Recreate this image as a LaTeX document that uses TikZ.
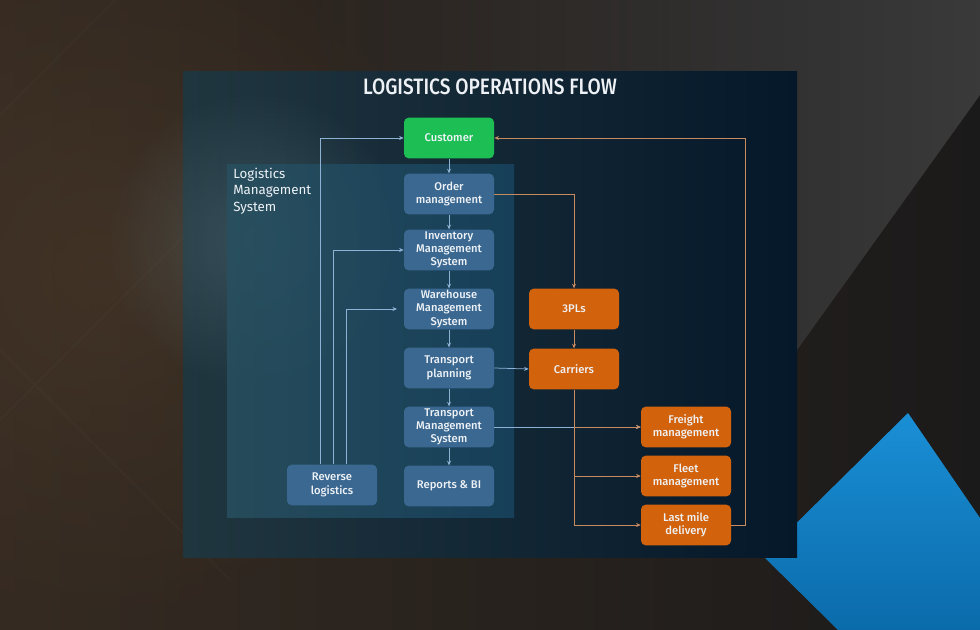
\documentclass[tikz,border=0pt]{standalone}
\usepackage{fontspec}
\setmainfont{Fira Sans}
\newfontfamily\medfont{Fira Sans Medium}
\newfontfamily\titlefont[FakeStretch=0.86]{Fira Sans Medium}
\usetikzlibrary{arrows.meta,fadings,calc}
\tikzfading[name=myglow, inner color=transparent!0, outer color=transparent!100]
\tikzfading[name=grayfade, left color=transparent!100, middle color=transparent!75, right color=transparent!0]
\definecolor{bgdark}{HTML}{1B1A1A}
\definecolor{bgbrown}{HTML}{4A3828}
\definecolor{bggray}{HTML}{3C3C3D}
\definecolor{bluetri}{HTML}{1A8FD6}
\definecolor{bluetri2}{HTML}{0B6BAA}
\definecolor{panelL}{HTML}{20363F}
\definecolor{panelR}{HTML}{05182A}
\definecolor{lmsL}{HTML}{285060}
\definecolor{lmsR}{HTML}{184460}
\definecolor{nodeblue}{HTML}{3B6891}
\definecolor{nodeorange}{HTML}{D2620C}
\definecolor{custgreen}{HTML}{1DBF55}
\definecolor{lineblue}{HTML}{8DB2D6}
\definecolor{lineorange}{HTML}{C98A5E}
\definecolor{txt}{HTML}{EEF2F6}
\tikzset{
  box/.style={rounded corners=3.5pt, minimum width=67.5pt, minimum height=30.5pt,
    align=center, text=txt, inner sep=1pt, font=\medfont\fontsize{8.4}{10}\selectfont},
  bluebox/.style={box, fill=nodeblue},
  orangebox/.style={box, fill=nodeorange},
  greenbox/.style={box, fill=custgreen},
  bl/.style={draw=lineblue, line width=0.55pt, -{Stealth[length=3.5pt,width=3pt]}},
  orl/.style={draw=lineorange, line width=0.55pt, -{Stealth[length=3.5pt,width=3pt]}},
}
\begin{document}
\begin{tikzpicture}[x=0.75pt,y=-0.75pt]
\useasboundingbox (0,0) rectangle (980,630);
% background
\shade[left color=bgbrown!55!bgdark, right color=bgdark] (0,0) rectangle (980,630);
\fill[bgbrown, path fading=myglow, opacity=0.6] (100,270) circle (360);
\fill[bggray, path fading=grayfade, opacity=0.95] (300,0) -- (980,0) -- (980,95) -- (797,350) -- (450,350) -- cycle;
\draw[white, opacity=0.025, line width=1pt] (0,115) -- (115,0) (0,420) -- (230,190) -- (460,420) (230,580) -- (0,350);
\shade[top color=bluetri, bottom color=bluetri2] (763,556) -- (908,413) -- (980,518) -- (980,630) -- (838,630) -- cycle;
% panel
\shade[left color=panelL, right color=panelR] (183,72) rectangle (797,557);
\fill[lmsL!70!white, path fading=myglow, opacity=0.35] (255,240) circle (150);
\shade[left color=lmsL, right color=lmsR, opacity=0.85] (227,165) rectangle (514,517);
% title
\node[text=txt, font=\titlefont\fontsize{16.7}{19}\selectfont] (title) at (490,87) {LOGISTICS OPERATIONS FLOW};
\node[text=txt, anchor=north west, align=left, inner sep=0pt, font=\fontsize{10}{12.2}\selectfont] (lms) at (233,168) {Logistics\\Management\\System};
% nodes
\node[greenbox] (cust) at (449,138) {Customer};
\node[bluebox] (order) at (449,194) {Order\\management};
\node[bluebox] (inv) at (449,250) {Inventory\\Management\\System};
\node[bluebox] (wh) at (449,309) {Warehouse\\Management\\System};
\node[bluebox] (tp) at (449,368) {Transport\\planning};
\node[bluebox] (tms) at (449,427) {Transport\\Management\\System};
\node[bluebox] (rep) at (449,486) {Reports \& BI};
\node[bluebox] (rev) at (332,485) {Reverse\\logistics};
\node[orangebox] (tpl) at (574,309) {3PLs};
\node[orangebox] (car) at (574,369) {Carriers};
\node[orangebox] (fr) at (686,427) {Freight\\management};
\node[orangebox] (fl) at (686,476) {Fleet\\management};
\node[orangebox] (lm) at (686,525) {Last mile\\delivery};
% connectors
\draw[bl] (cust) -- (order);
\draw[bl] (order) -- (inv);
\draw[bl] (inv) -- (wh);
\draw[bl] (wh) -- (tp);
\draw[bl] (tp) -- (tms);
\draw[bl] (tms) -- (rep);
\draw[bl] ([xshift=-9pt]rev.north) |- (cust.west);
\draw[bl] ([xshift=0.75pt]rev.north) |- (inv.west);
\draw[bl] ([xshift=10.5pt]rev.north) |- ([xshift=-5pt]wh.west);
\draw[bl] (tp.east) -- (car.west);
\draw[bl] (tms.east) -- (fr.west);
\draw[orl] (order.east) -| (tpl.north);
\draw[orl] (tpl) -- (car);
\draw[orl] (car.south) |- (fr.west);
\draw[orl] (car.south) |- (fl.west);
\draw[orl] (car.south) |- (lm.west);
\draw[orl] (lm.east) -- ([xshift=10.5pt]lm.east) |- (cust.east);
\end{tikzpicture}
\end{document}
